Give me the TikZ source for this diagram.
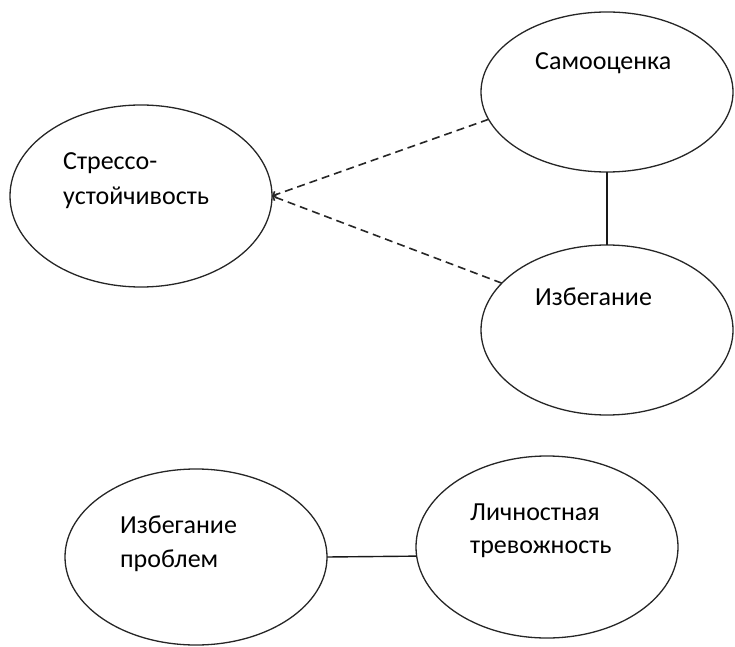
\documentclass[tikz,border=0pt]{standalone}
\usepackage{fontspec}
\setmainfont{Carlito}
\usetikzlibrary{shapes.geometric,arrows.meta}

\begin{document}
\begin{tikzpicture}[x=1pt,y=1pt,
  oval/.style={ellipse,draw=black!85,line width=1.3pt,inner sep=0pt,outer sep=0pt},
  lbl/.style={anchor=base west,inner sep=0pt,font=\fontsize{26}{34}\selectfont,text=black},
  solidlink/.style={draw=black!90,line width=1.4pt},
  dashlink/.style={draw=black!85,line width=1.6pt,dash pattern=on 8pt off 5pt,
    -{Straight Barb[length=3pt,width=7pt]}}]
  \useasboundingbox (0,0) rectangle (735,646);

  % ovals
  \node[oval,minimum width=262pt,minimum height=182pt] (stress) at (141,450) {};
  \node[oval,minimum width=252pt,minimum height=160pt] (selfest) at (607,554) {};
  \node[oval,minimum width=252pt,minimum height=170pt] (avoid) at (607,316) {};
  \node[oval,minimum width=262pt,minimum height=176pt] (avoidprob) at (196,89) {};
  \node[oval,minimum width=262pt,minimum height=182pt] (anxiety) at (547,99) {};

  % captions
  \node[lbl] (t1a) at (63,476) {Стрессо-};
  \node[lbl] (t1b) at (63,441) {устойчивость};
  \node[lbl] (t2) at (535,576) {Самооценка};
  \node[lbl] (t3) at (535,341) {Избегание};
  \node[lbl] (t4a) at (120,113) {Избегание};
  \node[lbl] (t4b) at (120,79) {проблем};
  \node[lbl] (t5a) at (470,126) {Личностная};
  \node[lbl] (t5b) at (470,93) {тревожность};

  % links
  \draw[dashlink] (selfest.193) -- (stress.east);
  \draw[dashlink] (avoid.156) -- (stress.east);
  \draw[solidlink] (selfest.south) -- (avoid.north);
  \draw[solidlink] (avoidprob.east) -- (anxiety.184);
\end{tikzpicture}
\end{document}
